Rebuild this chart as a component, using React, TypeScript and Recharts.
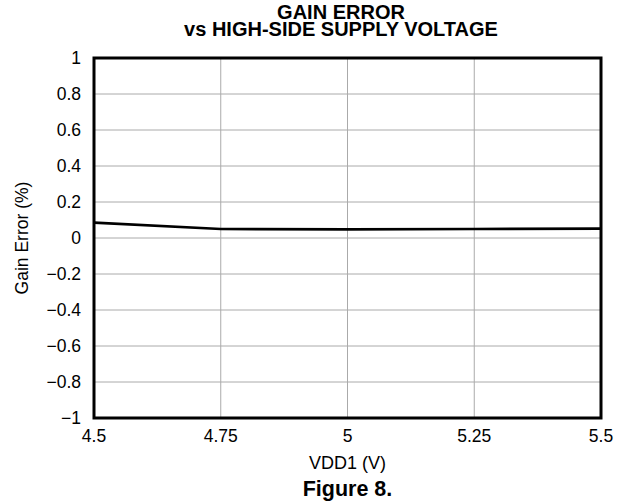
import React from "react";
import {
  LineChart,
  Line,
  XAxis,
  YAxis,
  CartesianGrid,
  ReferenceArea,
} from "recharts";

// VDD1 supply voltage (V)
const vdd1 = [4.5, 4.75, 5, 5.25, 5.5];
// gain error (%)
const gainError = [0.085, 0.05, 0.048, 0.05, 0.052];

const xTicks = [4.5, 4.75, 5, 5.25, 5.5];
const yTicks = [-1, -0.8, -0.6, -0.4, -0.2, 0, 0.2, 0.4, 0.6, 0.8, 1];

const data = vdd1.map((v, i) => ({ vdd1: v, gain: gainError[i] }));

const FONT = "'Liberation Sans', Arial, sans-serif";
const TICK = 17.5;

const fmt = (v: number) => (v < 0 ? "\u2212" + Math.abs(v) : String(v));

export default function App() {
  return (
    <div
      style={{
        position: "absolute",
        left: 0,
        top: 0,
        width: 625,
        height: 504,
        background: "#fff",
        fontFamily: FONT,
      }}
    >
      <div
        style={{
          position: "absolute",
          top: 4,
          left: 0,
          width: 625,
          textAlign: "center",
          fontWeight: "bold",
          fontSize: 20,
          lineHeight: "17px",
          paddingLeft: 57,
          boxSizing: "border-box",
        }}
      >
        GAIN ERROR
        <br />
        vs HIGH-SIDE SUPPLY VOLTAGE
      </div>

      <LineChart
        width={625}
        height={504}
        data={data}
        margin={{ top: 58, right: 24, left: 34, bottom: 56 }}
      >
        <CartesianGrid stroke="#aaa" strokeWidth={1} />
        <XAxis
          dataKey="vdd1"
          type="number"
          domain={[4.5, 5.5]}
          ticks={xTicks}
          height={30}
          tickLine={false}
          axisLine={false}
          tickMargin={6}
          tick={{ fill: "#000", fontSize: TICK, fontFamily: FONT }}
        />
        <YAxis
          type="number"
          domain={[-1, 1]}
          ticks={yTicks}
          width={60}
          tickLine={false}
          axisLine={false}
          tickMargin={7}
          tickFormatter={fmt}
          tick={{ fill: "#000", fontSize: TICK, fontFamily: FONT }}
        />
        <Line
          type="linear"
          dataKey="gain"
          stroke="#000"
          strokeWidth={2.7}
          dot={false}
          isAnimationActive={false}
        />
        <ReferenceArea
          x1={4.5}
          x2={5.5}
          y1={-1}
          y2={1}
          fill="none"
          stroke="#000"
          strokeWidth={3}
          ifOverflow="visible"
        />
      </LineChart>

      <div
        style={{
          position: "absolute",
          left: 22,
          top: 238,
          transform: "translate(-50%, -50%) rotate(-90deg)",
          fontSize: TICK,
          whiteSpace: "nowrap",
        }}
      >
        Gain Error (%)
      </div>
      <div
        style={{
          position: "absolute",
          top: 453,
          left: 94,
          width: 507,
          textAlign: "center",
          fontSize: 18,
        }}
      >
        VDD1 (V)
      </div>
      <div
        style={{
          position: "absolute",
          top: 477,
          left: 94,
          width: 507,
          textAlign: "center",
          fontSize: 21.5,
          fontWeight: "bold",
        }}
      >
        Figure 8.
      </div>
    </div>
  );
}
